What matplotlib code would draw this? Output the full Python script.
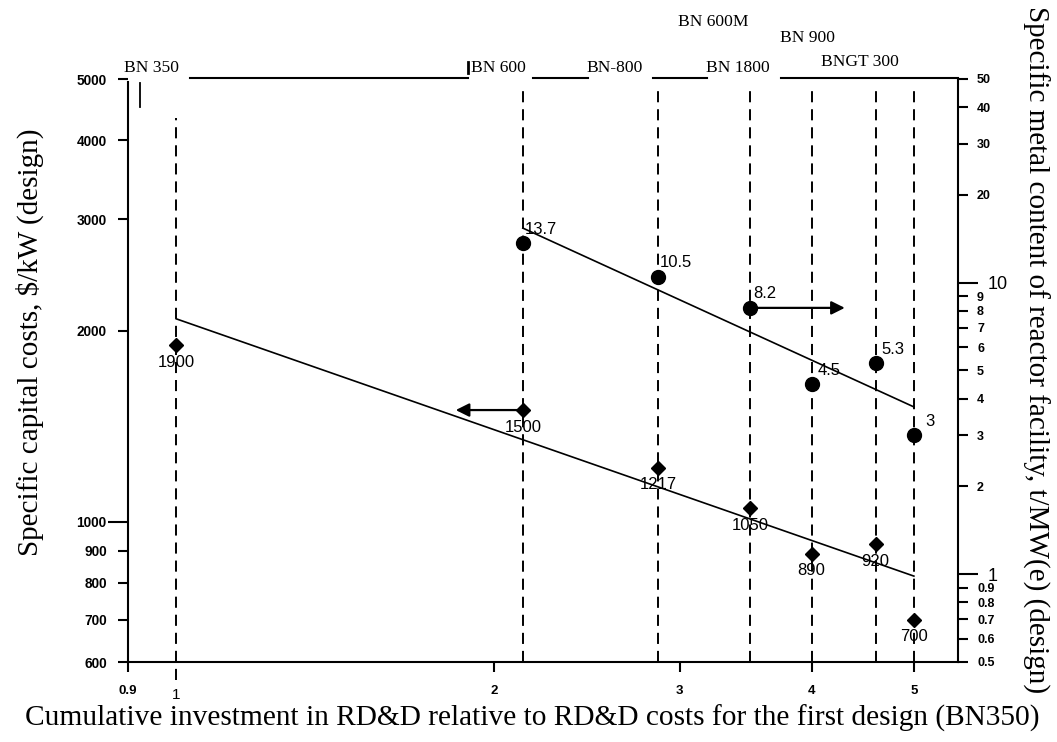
import matplotlib
matplotlib.use("Agg")
import matplotlib.pyplot as plt
from matplotlib.ticker import FixedLocator, FixedFormatter
from matplotlib.lines import Line2D

# ---- data -------------------------------------------------------------
# cumulative RD&D investment (relative to BN350) for each design
design_x = [1.0, 2.13, 2.86, 3.5, 4.0, 4.6, 5.0]

# specific capital costs, $/kW
cost_x = [1.0, 2.13, 2.86, 3.5, 4.0, 4.6, 5.0]
cost = [1900, 1500, 1217, 1050, 890, 920, 700]
cost_trend_x = [1.0, 5.0]
cost_trend = [2090, 820]

# specific metal content, t/MW(e)
metal_x = [2.13, 2.86, 3.5, 4.0, 4.6, 5.0]
metal = [13.7, 10.5, 8.2, 4.5, 5.3, 3.0]
metal_trend_x = [2.13, 5.0]
metal_trend = [15.4, 3.75]

# axis-pointer arrows
cost_arrow = [(2.13, 1500), (1.84, 1500)]
metal_arrow = [(3.5, 8.2), (4.3, 8.2)]

design_names = ["BN 350", "BN 600", "BN-800", "BN 1800", "BN 600M", "BN 900", "BNGT 300"]

x_ticks = [0.9, 2, 3, 4, 5]
x_tick_labels = ["0.9", "2", "3", "4", "5"]
left_ticks = [600, 700, 800, 900, 2000, 3000, 4000, 5000]
left_tick_labels = ["600", "700", "800", "900", "2000", "3000", "4000", "5000"]
right_ticks = [0.5, 0.6, 0.7, 0.8, 0.9, 2, 3, 4, 5, 6, 7, 8, 9, 20, 30, 40, 50]
right_tick_labels = ["0.5", "0.6", "0.7", "0.8", "0.9", "2", "3", "4", "5", "6",
                     "7", "8", "9", "20", "30", "40", "50"]

# ---- figure -----------------------------------------------------------
W, H = 1057, 742
plt.rcParams["lines.scale_dashes"] = False
SANS = "Liberation Sans"
SERIF = "Liberation Serif"

fig = plt.figure(figsize=(W / 100, H / 100), dpi=100)
fig.patch.set_facecolor("white")


def fx(px):
    return px / W


def fy(py):
    return 1 - py / H


L, R, T, B = 128, 958, 79, 662
ax = fig.add_axes([fx(L), fy(B), fx(R) - fx(L), fy(T) - fy(B)])
ax.set_xscale("log")
ax.set_yscale("log")
ax.set_xlim(0.9, 5.505)
ax.set_ylim(600, 5000)

ax2 = ax.twinx()
ax2.set_yscale("log")
ax2.set_ylim(0.5, 50)

for a in (ax, ax2):
    a.patch.set_visible(False)
    for s in a.spines.values():
        s.set_linewidth(1.5)
    a.spines["top"].set_visible(False)
ax.spines["right"].set_visible(False)
ax2.spines["left"].set_visible(False)
ax2.spines["bottom"].set_visible(False)
ax.spines["left"].set_bounds(600, 4950)

# left axis ticks (1000 drawn longer)
ax.yaxis.set_major_locator(FixedLocator([1000]))
ax.yaxis.set_major_formatter(FixedFormatter(["1000"]))
ax.yaxis.set_minor_locator(FixedLocator(left_ticks))
ax.yaxis.set_minor_formatter(FixedFormatter(left_tick_labels))
ax.tick_params(axis="y", which="major", length=14.4, width=1.5, pad=1, labelsize=9.8)
ax.tick_params(axis="y", which="minor", length=7.2, width=1.5, pad=8, labelsize=9.8)

# bottom axis ticks ("1" set lower and in a plain face)
ax.xaxis.set_major_locator(FixedLocator(x_ticks))
ax.xaxis.set_major_formatter(FixedFormatter(x_tick_labels))
ax.xaxis.set_minor_locator(FixedLocator([1]))
ax.xaxis.set_minor_formatter(FixedFormatter(["1"]))
ax.tick_params(axis="x", which="major", length=7.2, width=1.5, pad=9, labelsize=9.5)
ax.tick_params(axis="x", which="minor", length=0, pad=18.5, labelsize=11)

# right axis ticks (1 and 10 drawn longer)
ax2.yaxis.set_major_locator(FixedLocator([1, 10]))
ax2.yaxis.set_major_formatter(FixedFormatter(["1", "10"]))
ax2.yaxis.set_minor_locator(FixedLocator(right_ticks))
ax2.yaxis.set_minor_formatter(FixedFormatter(right_tick_labels))
ax2.tick_params(axis="y", which="major", length=14.4, width=1.5, pad=7, labelsize=13)
ax2.tick_params(axis="y", which="minor", length=7.2, width=1.5, pad=6.5, labelsize=9)

for t in ax.yaxis.get_major_ticks() + ax.yaxis.get_minor_ticks():
    t.label1.set_fontweight("bold")
    t.label1.set_fontfamily(SANS)
for t in ax.xaxis.get_major_ticks():
    t.label1.set_fontweight("bold")
    t.label1.set_fontfamily(SANS)
for t in ax.xaxis.get_minor_ticks():
    t.label1.set_fontfamily(SANS)
for t in ax2.yaxis.get_minor_ticks():
    t.label2.set_fontweight("bold")
    t.label2.set_fontfamily(SANS)
for t in ax2.yaxis.get_major_ticks():
    t.label2.set_fontfamily(SANS)

# vertical dashed lines for each design
dash = (0, (8, 5))
for i, xv in enumerate(design_x):
    top = 4340 if i == 0 else 4800
    bottom = 562 if i == 0 else 600
    ax.vlines(xv, bottom, top, colors="k", linewidth=1.4, linestyles=[dash], clip_on=False)

# trend lines
ax.plot(cost_trend_x, cost_trend, color="k", lw=1.2)
ax2.plot(metal_trend_x, metal_trend, color="k", lw=1.2)

# markers
ax.plot(cost_x, cost, linestyle="none", marker="D", ms=7.2, color="k")
ax2.plot(metal_x, metal, linestyle="none", marker="o", ms=10, color="k")

# arrows showing which axis each series belongs to
arrow_kw = dict(arrowstyle="-|>", color="k", lw=1.6, mutation_scale=20, shrinkA=0, shrinkB=0)
ax.annotate("", xy=cost_arrow[1], xytext=cost_arrow[0], arrowprops=arrow_kw)
ax2.annotate("", xy=metal_arrow[1], xytext=metal_arrow[0], arrowprops=arrow_kw)

# value labels
for xv, v in zip(cost_x, cost):
    ax.annotate(f"{v:g}", xy=(xv, v), xytext=(0, -12.3), textcoords="offset points",
                ha="center", va="center", fontsize=12, family=SANS)
metal_offsets = [(1.5, 9.5), (1, 10), (2, 10), (4, 9.5), (4, 9.5), (8, 10)]
for (xv, v), (dx, dy) in zip(zip(metal_x, metal), metal_offsets):
    ax2.annotate(f"{v:g}", xy=(xv, v), xytext=(dx, dy), textcoords="offset points",
                 ha="left", va="center", fontsize=12, family=SANS)

# design header line with names
for a_px, b_px in [(190, 468), (533, 588), (653, 707), (781, 958)]:
    fig.add_artist(Line2D([fx(a_px), fx(b_px)], [fy(78), fy(78)], color="k", lw=1.5))
fig.add_artist(Line2D([fx(140), fx(140)], [fy(83), fy(107)], color="k", lw=1.3))
fig.add_artist(Line2D([fx(468), fx(468)], [fy(62), fy(73)], color="k", lw=2))

name_pos = [(151, 68), (498, 68), (615, 68), (738, 68), (713, 22), (808, 38), (860, 62)]
for name, (px, py) in zip(design_names, name_pos):
    fig.text(fx(px), fy(py), name, ha="center", va="center", fontsize=12.6, family=SERIF)

# axis titles
fig.text(fx(30), fy(342), "Specific capital costs, $/kW (design)", rotation=90,
         ha="center", va="center", fontsize=21, family=SERIF)
fig.text(fx(1036), fy(350), "Specific metal content of reactor facility, t/MW(e) (design)",
         rotation=-90, ha="center", va="center", fontsize=21, family=SERIF)
fig.text(fx(532), fy(718),
         "Cumulative investment in RD&D relative to RD&D costs for the first design (BN350)",
         ha="center", va="center", fontsize=21.2, family=SERIF)

fig.savefig("out.png", dpi=100)
